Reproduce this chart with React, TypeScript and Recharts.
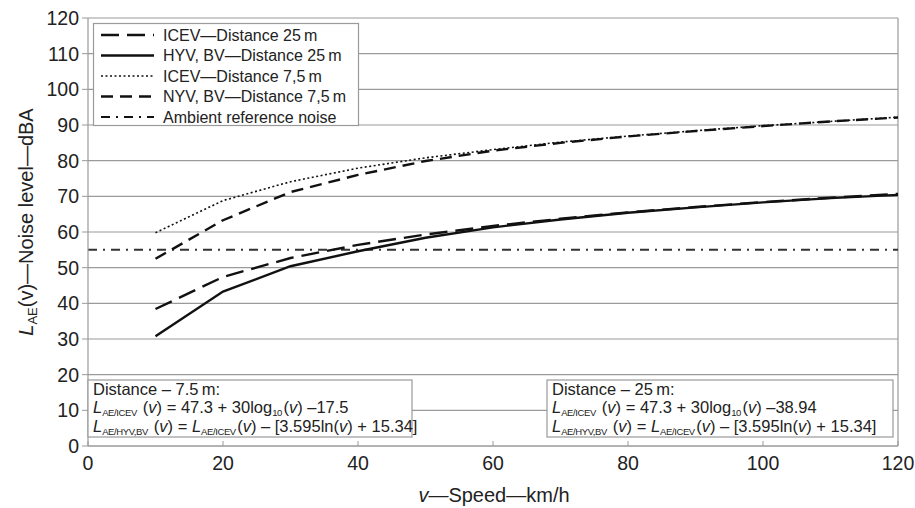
import React from 'react';
import { LineChart, Line, XAxis, YAxis, CartesianGrid, ReferenceLine } from 'recharts';

const speeds = [10, 20, 30, 40, 50, 60, 70, 80, 90, 100, 110, 120];
const icevAt25 = [38.4, 47.4, 52.7, 56.4, 59.3, 61.7, 63.7, 65.5, 67.0, 68.4, 69.6, 70.7];
const hyvBvAt25 = [30.8, 43.3, 50.4, 54.6, 58.4, 61.3, 63.5, 65.4, 66.9, 68.3, 69.5, 70.4];
const icevAt7_5 = [59.8, 68.8, 74.1, 77.9, 80.8, 83.1, 85.2, 86.9, 88.4, 89.8, 91.0, 92.2];
const nyvBvAt7_5 = [52.5, 63.3, 71.2, 76.0, 79.9, 82.8, 85.0, 86.8, 88.3, 89.7, 91.0, 92.1];
const ambientNoise = 55;

const xTicks = [0, 20, 40, 60, 80, 100, 120];
const yTicks = [0, 10, 20, 30, 40, 50, 60, 70, 80, 90, 100, 110, 120];

const seriesLabels = [
  'ICEV\u2014Distance 25\u2009m',
  'HYV, BV\u2014Distance 25\u2009m',
  'ICEV\u2014Distance 7,5\u2009m',
  'NYV, BV\u2014Distance 7,5\u2009m',
  'Ambient reference noise',
];

const FONT = '"Liberation Sans", Arial, Helvetica, sans-serif';
const INK = '#111';
const TEXT = '#222';
const GRID = '#9a9a9a';

const series = [
  { key: 'icev25', name: seriesLabels[0], dash: '18 8', width: 2.4 },
  { key: 'hyv25', name: seriesLabels[1], dash: undefined as string | undefined, width: 2.4 },
  { key: 'icev75', name: seriesLabels[2], dash: '2 2.5', width: 1.6 },
  { key: 'nyv75', name: seriesLabels[3], dash: '12 7', width: 2.4 },
];
const ambientStyle = { name: seriesLabels[4], dash: '9 6 2 6', width: 2 };

const data = speeds.map((v, i) => ({
  v,
  icev25: icevAt25[i],
  hyv25: hyvBvAt25[i],
  icev75: icevAt7_5[i],
  nyv75: nyvBvAt7_5[i],
}));

const XTick = (props: any) => {
  const { x, y, payload } = props;
  return (
    <g>
      <line x1={x} x2={x} y1={y} y2={y - 5} stroke={GRID} strokeWidth={1} />
      <text x={x} y={y + 24} textAnchor="middle" fontSize={19.5} fontFamily={FONT} fill={TEXT}>
        {payload.value}
      </text>
    </g>
  );
};

const YTick = (props: any) => {
  const { x, y, payload } = props;
  return (
    <g>
      <line x1={x - 6} x2={x} y1={y} y2={y} stroke={GRID} strokeWidth={1} />
      <text x={x - 9} y={y + 7} textAnchor="end" fontSize={19.5} fontFamily={FONT} fill={TEXT}>
        {payload.value}
      </text>
    </g>
  );
};

const LegendBox = ({ x, y }: { x: number; y: number }) => {
  const items = [
    ...series.map((s) => ({ name: s.name, dash: s.dash, width: s.width })),
    { name: ambientStyle.name, dash: ambientStyle.dash, width: ambientStyle.width },
  ];
  return (
    <g transform={`translate(${x},${y})`}>
      <rect x={0.5} y={0.5} width={265} height={102} fill="#fff" stroke={GRID} strokeWidth={1.2} />
      {items.map((it, i) => {
        const cy = 12 + i * 20.5;
        return (
          <g key={i}>
            <line x1={8} x2={61} y1={cy} y2={cy} stroke={INK} strokeWidth={it.width} strokeDasharray={it.dash} />
            <text x={70} y={cy + 5.5} fontSize={16} fontFamily={FONT} fill={TEXT}>
              {it.name}
            </text>
          </g>
        );
      })}
    </g>
  );
};

const Sub = ({ children }: { children: string }) => (
  <>
    <tspan dy={3} fontSize={9.5} letterSpacing={-0.4}>{children}</tspan>
    <tspan dy={-3}>{'\u200a'}</tspan>
  </>
);

const FormulaBox = ({ x, w, dist, offset }: { x: number; w: number; dist: string; offset: string }) => {
  const y = 380;
  return (
    <g fontFamily={FONT} fill={TEXT} fontSize={16.5}>
      <rect x={x} y={y} width={w} height={57} fill="#fff" stroke={GRID} strokeWidth={1.2} />
      <text x={x + 5} y={y + 14.5}>{`Distance \u2013 ${dist}\u2009m:`}</text>
      <text x={x + 5} y={y + 32.5}>
        <tspan fontStyle="italic">L</tspan>
        <Sub>AE/ICEV</Sub>
        <tspan> (</tspan>
        <tspan fontStyle="italic">v</tspan>
        <tspan>{') = 47.3 + 30log'}</tspan>
        <Sub>10</Sub>
        <tspan>(</tspan>
        <tspan fontStyle="italic">v</tspan>
        <tspan>{`) \u2013${offset}`}</tspan>
      </text>
      <text x={x + 5} y={y + 51.5}>
        <tspan fontStyle="italic">L</tspan>
        <Sub>AE/HYV,BV</Sub>
        <tspan> (</tspan>
        <tspan fontStyle="italic">v</tspan>
        <tspan>{') = '}</tspan>
        <tspan fontStyle="italic">L</tspan>
        <Sub>AE/ICEV</Sub>
        <tspan>(</tspan>
        <tspan fontStyle="italic">v</tspan>
        <tspan>{') \u2013 [3.595ln('}</tspan>
        <tspan fontStyle="italic">v</tspan>
        <tspan>{') + 15.34]'}</tspan>
      </text>
    </g>
  );
};

export default function App() {
  return (
    <div style={{ position: 'absolute', left: 0, top: 0, width: 915, height: 508, background: '#fff' }}>
      <LineChart
        width={915}
        height={508}
        data={data}
        margin={{ top: 18, right: 17, left: 0, bottom: 0 }}
      >
        <CartesianGrid horizontal vertical={false} stroke={GRID} strokeWidth={1.2} />
        <XAxis
          dataKey="v"
          type="number"
          domain={[0, 120]}
          ticks={xTicks}
          height={62}
          tickSize={0}
          tickMargin={0}
          tickLine={false}
          axisLine={{ stroke: GRID, strokeWidth: 1.2 }}
          tick={<XTick />}
          interval={0}
        />
        <YAxis
          type="number"
          domain={[0, 120]}
          ticks={yTicks}
          width={88}
          tickSize={0}
          tickMargin={0}
          tickLine={false}
          axisLine={{ stroke: GRID, strokeWidth: 1.2 }}
          tick={<YTick />}
          interval={0}
        />
        <ReferenceLine x={120} stroke={GRID} strokeWidth={1.2} />
        <ReferenceLine
          y={ambientNoise}
          stroke="#333"
          strokeWidth={ambientStyle.width}
          strokeDasharray={ambientStyle.dash}
        />
        {series.map((s) => (
          <Line
            key={s.key}
            dataKey={s.key}
            name={s.name}
            type="linear"
            stroke={INK}
            strokeWidth={s.width}
            strokeDasharray={s.dash}
            dot={false}
            activeDot={false}
            isAnimationActive={false}
          />
        ))}
      </LineChart>
      <svg
        width={915}
        height={508}
        style={{ position: 'absolute', left: 0, top: 0, pointerEvents: 'none' }}
      >
        <LegendBox x={93} y={23} />
        <FormulaBox x={88} w={324} dist="7.5" offset="17.5" />
        <FormulaBox x={547} w={346} dist="25" offset="38.94" />
        <text
          transform="translate(33,222) rotate(-90)"
          textAnchor="middle"
          fontSize={20}
          fontFamily={FONT}
          fill={TEXT}
        >
          <tspan fontStyle="italic">L</tspan>
          <tspan dy={4} fontSize={13}>AE</tspan>
          <tspan dy={-4}>{'(v)\u2014Noise level\u2014dBA'}</tspan>
        </text>
        <text x={494} y={502} textAnchor="middle" fontSize={20} fontFamily={FONT} fill={TEXT}>
          <tspan fontStyle="italic">v</tspan>
          <tspan>{'\u2014Speed\u2014km/h'}</tspan>
        </text>
      </svg>
    </div>
  );
}
